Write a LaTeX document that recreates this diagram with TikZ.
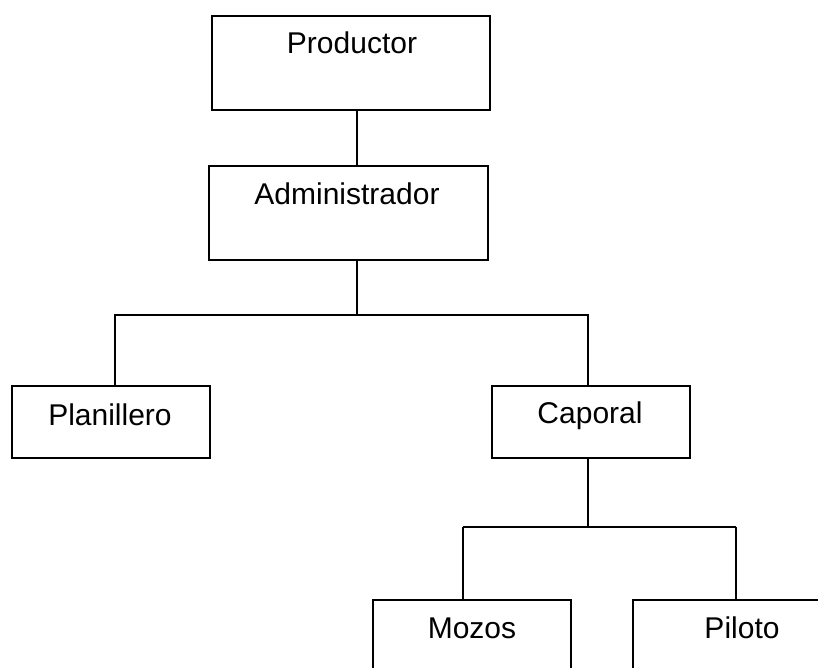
\documentclass[tikz,border=0pt]{standalone}
\usepackage{fontspec}
\setmainfont{Liberation Sans}
\usetikzlibrary{calc}
\begin{document}
\begin{tikzpicture}[x=1pt,y=-1pt,
  box/.style={draw=black,line width=1.8pt,rectangle,inner sep=0pt,anchor=north west},
  lbl/.style={inner sep=0pt,anchor=base,font=\fontsize{30}{30}\selectfont},
  conn/.style={draw=black,line width=1.8pt}]
\useasboundingbox (0,0) rectangle (818,667);
\clip (0,0) rectangle (818,667);
\fill[white] (0,0) rectangle (818,667);
% boxes
\node[box,minimum width=278pt,minimum height=94pt] (prod) at (211,15) {};
\node[box,minimum width=279pt,minimum height=94pt] (admin) at (208,165) {};
\node[box,minimum width=198pt,minimum height=72pt] (plan) at (11,385) {};
\node[box,minimum width=198pt,minimum height=72pt] (cap) at (491,385) {};
\node[box,minimum width=198pt,minimum height=100pt] (moz) at (372,599) {};
\node[box,minimum width=220pt,minimum height=100pt] (pil) at (632,599) {};
% labels
\node[lbl] (tprod) at (352,53) {Productor};
\node[lbl] (tadmin) at (347,204) {Administrador};
\node[lbl] (tplan) at (110,425) {Planillero};
\node[lbl] (tcap) at (590,423) {Caporal};
\node[lbl] (tmoz) at (472,638) {Mozos};
\node[lbl] (tpil) at (742,638) {Piloto};
% connectors
\coordinate (j1) at (357,315);
\coordinate (j2) at (588,527);
\coordinate (ml) at (463,527);
\coordinate (mr) at (736,527);
\draw[conn] (prod.south -| j1) -- (admin.north -| j1);
\draw[conn] (admin.south -| j1) -- (j1);
\draw[conn] (j1) -| ($(plan.north)+(4,0)$);
\draw[conn] (j1) -| (cap.north -| j2);
\draw[conn] (cap.south -| j2) -- (j2);
\draw[conn] (ml) -- (mr);
\draw[conn] (ml) -- (ml |- moz.north);
\draw[conn] (mr) -- (mr |- pil.north);
\end{tikzpicture}
\end{document}
